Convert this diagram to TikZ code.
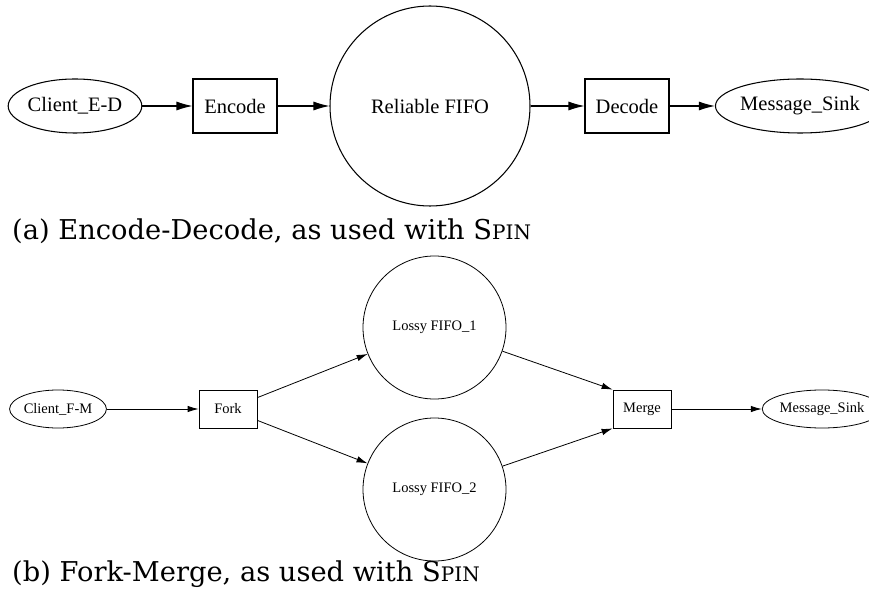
\documentclass[tikz,border=0pt]{standalone}
\usepackage{fontspec}
\setmainfont{Liberation Serif}
\newfontfamily\capfont{DejaVu Serif}
\usetikzlibrary{shapes.geometric,arrows.meta}
\tikzset{
  bigtxt/.style={font=\fontsize{20.5}{24}\selectfont},
  smalltxt/.style={font=\fontsize{14.5}{17}\selectfont},
  topnode/.style={draw, line width=1.05pt, inner sep=0pt, bigtxt},
  botnode/.style={draw, line width=0.8pt, inner sep=0pt, smalltxt},
  topbox/.style={topnode, rectangle, minimum width=84pt, minimum height=54pt},
  topell/.style={topnode, ellipse, minimum height=54pt},
  botbox/.style={botnode, rectangle, minimum width=58pt, minimum height=38pt},
  botell/.style={botnode, ellipse, minimum height=38pt},
  toparrow/.style={line width=1.05pt, -{Latex[length=16pt,width=9pt]}},
  botarrow/.style={line width=0.8pt, -{Latex[length=11pt,width=6.5pt]}},
  captxt/.style={anchor=base west, inner sep=0pt, font=\capfont\fontsize{27.3}{31}\selectfont}
}
\newcommand{\spinsc}{S{\fontsize{20}{23}\selectfont PIN}}
\begin{document}
\begin{tikzpicture}[x=1pt,y=-1pt]
\useasboundingbox (0,0) rectangle (869,609);
\clip (0,0) rectangle (869,609);
% (a)
\node[topell, minimum width=126pt] (ced) at (75,106) {Client\_E-D};
\node[topbox] (enc) at (235,106) {Encode};
\node[topnode, circle, minimum size=200pt] (rf) at (430,106) {Reliable FIFO};
\node[topbox] (dec) at (627,106) {Decode};
\node[topell, minimum width=150pt] (ms1) at (800,106) {Message\_Sink};
\draw[toparrow] (ced) -- (enc);
\draw[toparrow] (enc) -- (rf);
\draw[toparrow] (rf) -- (dec);
\draw[toparrow] (dec) -- (ms1);
\node[captxt] (capa) at (12,240) {(a) Encode-Decode, as used with \spinsc};
% (b)
\node[botell, minimum width=92pt] (cfm) at (58,409) {Client\_F-M};
\node[botbox] (fork) at (228,409) {Fork};
\node[botnode, circle, minimum size=143pt] (l1) at (434.5,327.5) {Lossy FIFO\_1};
\node[botnode, circle, minimum size=143pt] (l2) at (434.5,489.5) {Lossy FIFO\_2};
\node[botbox] (merge) at (642,409) {Merge};
\node[botell, minimum width=108pt] (ms2) at (822,409) {Message\_Sink};
\draw[botarrow] (cfm) -- (fork);
\draw[botarrow] (fork.north east) ++(0,8) coordinate (f1) (f1) -- (l1);
\draw[botarrow] (fork.south east) ++(0,-8) coordinate (f2) (f2) -- (l2);
\draw[botarrow] (l1) -- (merge.north west);
\draw[botarrow] (l2) -- (merge.south west);
\draw[botarrow] (merge) -- (ms2);
\node[captxt] (capb) at (12,581) {(b) Fork-Merge, as used with \spinsc};
\end{tikzpicture}
\end{document}
